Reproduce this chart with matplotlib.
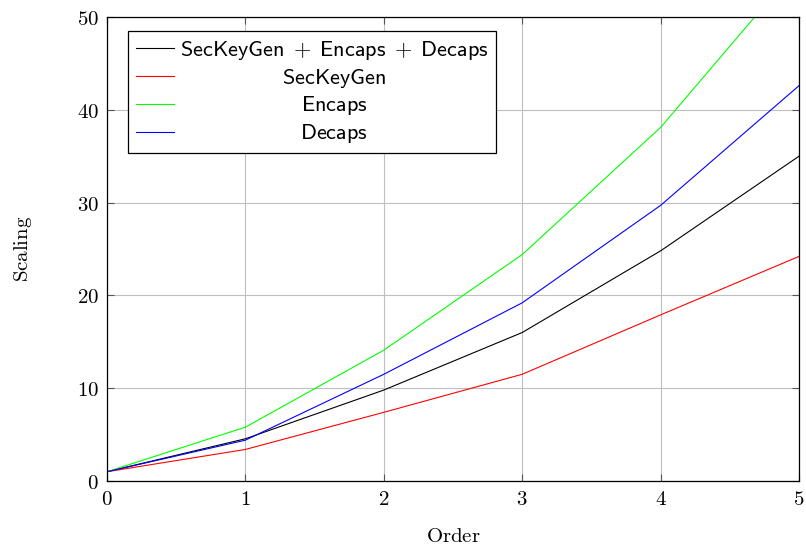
import numpy as np
import matplotlib
matplotlib.use("Agg")
import matplotlib.pyplot as plt

plt.rcParams['mathtext.fontset'] = 'cm'

# data
order = [0, 1, 2, 3, 4, 5]
total = [1.0, 4.55, 9.8, 16.0, 24.8, 35.0]
seckeygen = [1.0, 3.4, 7.4, 11.5, 17.9, 24.2]
encaps = [1.0, 5.8, 14.1, 24.4, 38.1, 55.6]
decaps = [1.0, 4.4, 11.5, 19.2, 29.7, 42.6]

labels = [r'$\mathsf{SecKeyGen}\;+\;\mathsf{Encaps}\;+\;\mathsf{Decaps}$',
          r'$\mathsf{SecKeyGen}$',
          r'$\mathsf{Encaps}$',
          r'$\mathsf{Decaps}$']
colors = ['black', 'red', '#00ff00', 'blue']

W, H = 806, 547
fig = plt.figure(figsize=(W / 100, H / 100), dpi=100)
ax = fig.add_axes([107 / W, 1 - 481 / H, (799 - 107) / W, (481 - 17) / H])

for ys, lab, c in zip([total, seckeygen, encaps, decaps], labels, colors):
    ax.plot(order, ys, color=c, lw=0.8, label=lab, clip_on=True)

ax.set_xlim(0, 5)
ax.set_ylim(0, 50)
ax.set_xticks(order)
ax.set_xticklabels([f'${v}$' for v in order], fontsize=15)
yt = [0, 10, 20, 30, 40, 50]
ax.set_yticks(yt)
ax.set_yticklabels([f'${v}$' for v in yt], fontsize=15)
ax.grid(True, color='#bfbfbf', lw=0.8)
ax.set_axisbelow(True)
ax.tick_params(direction='in', top=True, right=True, length=5, width=0.8,
               color='#555555', pad=6)
for s in ax.spines.values():
    s.set_linewidth(0.9)
ax.set_xlabel(r'$\mathrm{Order}$', fontsize=15, labelpad=12)
ax.set_ylabel(r'$\mathrm{Scaling}$', fontsize=15, labelpad=31)

leg = ax.legend(loc='upper left', bbox_to_anchor=(0.03, 0.97), fontsize=16,
                frameon=True, fancybox=False, edgecolor='black',
                handlelength=1.75, handletextpad=0.25, labelspacing=0.22,
                borderpad=0.35, borderaxespad=0)
leg.get_frame().set_linewidth(0.9)
leg.get_frame().set_alpha(1)

# center the legend texts like pgfplots does
fig.canvas.draw()
r = fig.canvas.get_renderer()
texts = leg.get_texts()
widths = [t.get_window_extent(r).width for t in texts]
mw = max(widths)
for t, w in zip(texts, widths):
    t.set_x((mw - w) / 2)

fig.savefig('out.png', dpi=100)
